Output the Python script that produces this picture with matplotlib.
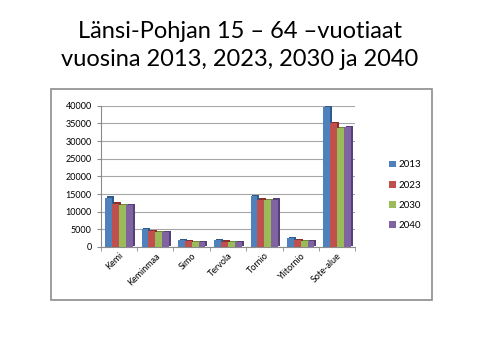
import matplotlib.pyplot as plt
import numpy as np
from matplotlib.patches import Rectangle

plt.rcParams['font.family'] = ['Lato', 'DejaVu Sans']

# data
kunnat = ['Kemi', 'Keminmaa', 'Simo', 'Tervola', 'Tornio', 'Ylitornio', 'Sote-alue']
vuodet = ['2013', '2023', '2030', '2040']
v2013 = [14000, 5000, 2000, 1900, 14500, 2500, 39800]
v2023 = [12300, 4500, 1600, 1500, 13400, 1900, 35000]
v2030 = [11800, 4100, 1400, 1300, 13200, 1600, 33700]
v2040 = [11800, 4100, 1400, 1300, 13400, 1600, 34000]

sarjat = [v2013, v2023, v2030, v2040]
varit = ['#4F81BD', '#C0504D', '#9BBB59', '#8064A2']
tummat = ['#2E5A8C', '#8C2F2C', '#6E8A36', '#55407A']

fig = plt.figure(figsize=(4.8, 3.6), dpi=100)

# title
fig.text(0.5, 0.912, 'Länsi-Pohjan 15 – 64 –vuotiaat', ha='center', va='center', fontsize=17)
fig.text(0.5, 0.835, 'vuosina 2013, 2023, 2030 ja 2040', ha='center', va='center', fontsize=17)

# chart frame
fig.patches.append(Rectangle((0.106, 0.167), 0.794, 0.586, transform=fig.transFigure,
                             fill=False, edgecolor='#8c8c8c', linewidth=1.2))

ax = fig.add_axes([0.21, 0.314, 0.53, 0.392])
x = np.arange(len(kunnat))
w = 0.19
for i, (s, c, d) in enumerate(zip(sarjat, varit, tummat)):
    pos = x + (i - 1.5) * w
    # darker side for a slight 3D look
    ax.bar(pos + 0.05, s, width=w, bottom=350, color=d, zorder=2)
    ax.bar(pos, s, width=w, color=c, label=vuodet[i], zorder=3)

ax.set_xlim(-0.5, len(kunnat) - 0.5)
ax.set_ylim(0, 40000)
ax.set_yticks(np.arange(0, 40001, 5000))
ax.set_xticks(x)
ax.set_xticklabels(kunnat, rotation=45, ha='right', rotation_mode='anchor', fontsize=6.5)
ax.tick_params(axis='y', labelsize=6.5, length=3, color='#8c8c8c')
ax.tick_params(axis='x', length=0, pad=3)
ax.set_xticks(np.arange(-0.5, len(kunnat), 1), minor=True)
ax.tick_params(axis='x', which='minor', length=3, color='#8c8c8c')
ax.yaxis.grid(True, color='#a6a6a6', linewidth=0.8, zorder=0)
ax.set_axisbelow(True)
for sp in ['top', 'right']:
    ax.spines[sp].set_visible(False)
for sp in ['left', 'bottom']:
    ax.spines[sp].set_color('#8c8c8c')

h, l = ax.get_legend_handles_labels()
fig.legend(h, l, loc='center left', bbox_to_anchor=(0.81, 0.458), frameon=False, fontsize=7,
           handlelength=0.7, handleheight=0.7, handletextpad=0.3, labelspacing=1.15,
           borderaxespad=0, borderpad=0)

fig.savefig('out.png', dpi=100)
